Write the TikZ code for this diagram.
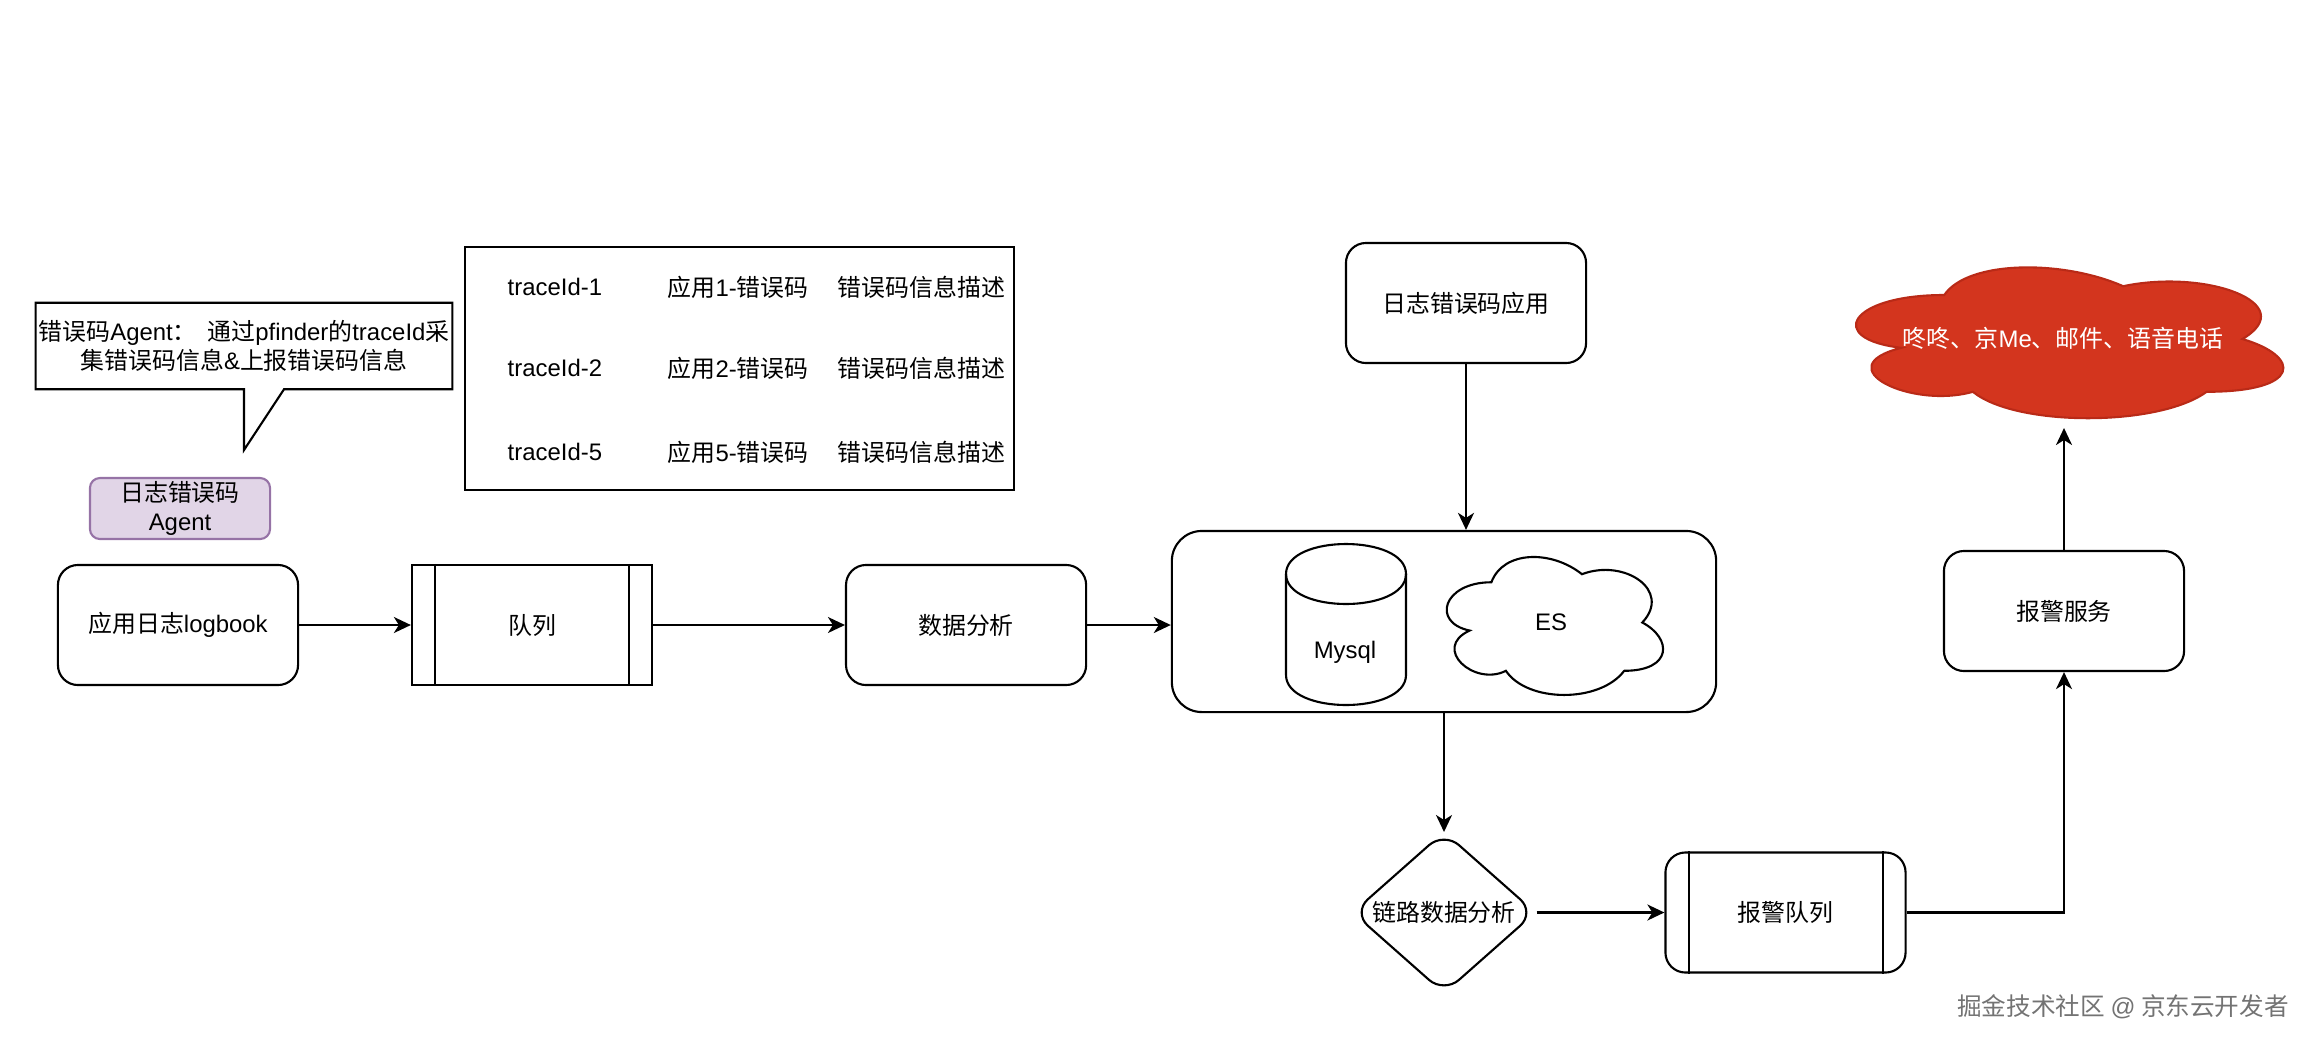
\documentclass[tikz,border=0pt]{standalone}
\usepackage{fontspec}
\setmainfont{Noto Sans CJK SC}
\newfontfamily\latn{Liberation Sans}
\newcommand{\en}[1]{{\latn #1}}
\usetikzlibrary{arrows.meta, positioning, shapes.geometric}

\newcommand{\cloudpath}{(.25,.25) .. controls (.05,.25) and (0,.5) .. (.16,.55)
    .. controls (0,.66) and (.18,.9) .. (.31,.8)
    .. controls (.4,1) and (.7,1) .. (.8,.8)
    .. controls (1,.8) and (1,.6) .. (.875,.5)
    .. controls (1,.3) and (.8,.1) .. (.625,.2)
    .. controls (.5,.05) and (.3,.05) .. (.25,.25) -- cycle}

\tikzset{
    base/.style={line width=0.6pt, align=center, inner sep=0pt},
    box/.style={base, draw, rounded corners=0.2cm, minimum width=2.4cm, minimum height=1.2cm},
    queuebox/.style={base, draw, minimum width=2.4cm, minimum height=1.2cm},
    plain/.style={inner sep=0pt, align=center},
    cell/.style={plain, anchor=west},
    link/.style={line width=0.6pt, -{Stealth[length=0.17cm, width=0.16cm, inset=0.05cm]}},
    outline/.style={line width=0.6pt},
}
\definecolor{agentfill}{HTML}{E1D5E7}
\definecolor{agentline}{HTML}{9673A6}
\definecolor{alertred}{HTML}{D3351E}
\definecolor{alertline}{HTML}{B92A17}

\begin{document}
\begin{tikzpicture}[x=0.01cm, y=-0.01cm, every node/.append style={font=\fontsize{6.8pt}{8.4pt}\selectfont}]
        \useasboundingbox (0,0) rectangle (2318,1048);

        % callout and trace table
        \node[plain, minimum width=4.15cm, minimum height=0.85cm] (callout) at (244,346) {错误码\en{Agent}：\ \ 通过\en{pfinder}的\en{traceId}采\\集错误码信息\en{\&}上报错误码信息};
        \coordinate (tip) at (244,450);
        \draw[outline] (callout.north west) -- (callout.north east) -- (callout.south east) -- ([xshift=0.4cm]callout.south) -- (tip) -- (callout.south) -- (callout.south west) -- cycle;

        \node[base, draw, minimum width=5.49cm, minimum height=2.42cm] (tablebox) at (739.5,368.5) {};
        \node[cell] (id1) at (507,287) {\en{traceId-1}};
        \node[cell] (code1) at (667,287) {应用\en{1-}错误码};
        \node[cell] (desc1) at (837,287) {错误码信息描述};
        \node[cell] (id2) at (507,368) {\en{traceId-2}};
        \node[cell] (code2) at (667,368) {应用\en{2-}错误码};
        \node[cell] (desc2) at (837,368) {错误码信息描述};
        \node[cell] (id5) at (507,452) {\en{traceId-5}};
        \node[cell] (code5) at (667,452) {应用\en{5-}错误码};
        \node[cell] (desc5) at (837,452) {错误码信息描述};

        \node[base, draw=agentline, fill=agentfill, rounded corners=0.1cm, minimum width=1.8cm, minimum height=0.61cm] (agent) at (180,508.5) {日志错误码\\\en{Agent}};

        % main row
        \node[box] (logbook) at (178,625) {应用日志\en{logbook}};
        \node[queuebox, right=1.117cm of logbook] (queue) {队列};
        \node[box, right=1.917cm of queue] (analysis) {数据分析};
        \draw[outline] ([xshift=0.24cm]queue.north west) -- ([xshift=0.24cm]queue.south west);
        \draw[outline] ([xshift=-0.24cm]queue.north east) -- ([xshift=-0.24cm]queue.south east);

        % storage
        \node[base, draw, rounded corners=0.3cm, minimum width=5.44cm, minimum height=1.81cm] (store) at (1444,621.5) {};
        \draw[outline] (1286,574) .. controls (1286,534) and (1406,534) .. (1406,574) -- (1406,675) .. controls (1406,715) and (1286,715) .. (1286,675) -- cycle;
        \draw[outline] (1286,574) .. controls (1286,614) and (1406,614) .. (1406,574);
        \node[plain] (mysql) at (1345,652) {\en{Mysql}};
        \begin{scope}[shift={(1431,542)}, xscale=241.5, yscale=161]
            \draw[outline] \cloudpath;
        \end{scope}
        \node[plain] (es) at (1551,622) {\en{ES}};

        \node[box] (app) at (1466,303) {日志错误码应用};

        % alarm path
        \node[base, draw, diamond, aspect=1.12, rounded corners=0.2cm, minimum width=1.83cm, minimum height=1.62cm] (linkdata) at (1444,912.5) {链路数据分析};
        \node[box, right=1.277cm of linkdata] (alarmqueue) {报警队列};
        \draw[outline] ([xshift=0.25cm]alarmqueue.north west) -- ([xshift=0.25cm]alarmqueue.south west);
        \draw[outline] ([xshift=-0.24cm]alarmqueue.north east) -- ([xshift=-0.24cm]alarmqueue.south east);
        \node[box] (alarm) at (2064,611) {报警服务};

        \begin{scope}[shift={(1825,251)}, xscale=477, yscale=176]
            \draw[outline, fill=alertred, draw=alertline] \cloudpath;
        \end{scope}
        \node[plain, text=white] (notify) at (2063,338) {咚咚、京\en{Me}、邮件、语音电话};
        \coordinate (notifyin) at (2064,428);
        \coordinate (linkin) at (1444,832);

        \node[plain, text=black!55, font=\fontsize{7pt}{8.4pt}\selectfont] (mark) at (2123,1007) {掘金技术社区 \en{@} 京东云开发者};

        % connectors
        \draw[link] (logbook) -- (queue);
        \draw[link] (queue) -- (analysis);
        \draw[link] (analysis) -- (analysis -| store.west);
        \draw[link] (app) -- (app |- store.north);
        \draw[link] (store) -- (linkin);
        \draw[link] (linkdata) -- (alarmqueue);
        \draw[link] (alarmqueue) -| (alarm);
        \draw[link] (alarm) -- (notifyin);
    \end{tikzpicture}
\end{document}
